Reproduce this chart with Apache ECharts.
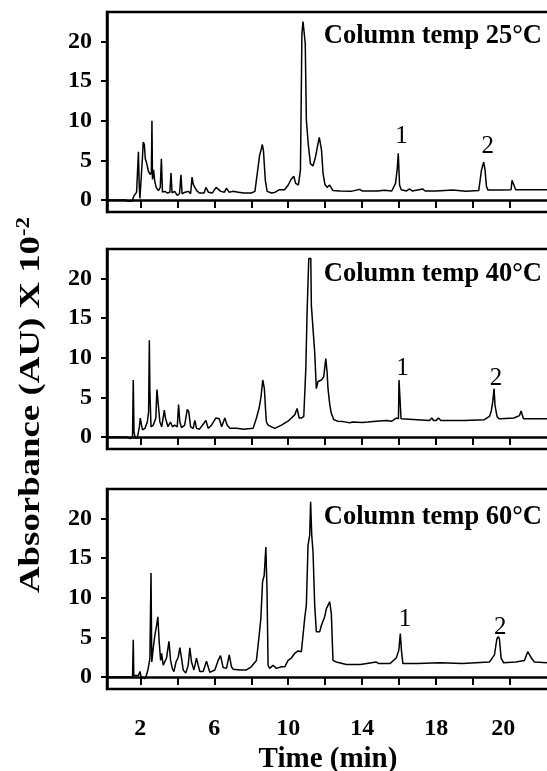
<!DOCTYPE html>
<html>
<head>
<meta charset="utf-8">
<script src="https://cdn.jsdelivr.net/npm/echarts@6/dist/echarts.min.js"></script>
<style>
  html, body { margin: 0; padding: 0; background: #fff; }
  #chart { width: 547px; height: 771px; }
</style>
</head>
<body>
<div id="chart"></div>
<script>
// Chromatograms (time in min, absorbance in AU x 10^-2) at three column temperatures
const panelTitles = ['Column temp 25\u00B0C', 'Column temp 40\u00B0C', 'Column temp 60\u00B0C'];

const trace25 = [
  [0.2, 0.0], [1.2, 0.0], [1.35, -0.15], [1.55, -0.15], [1.65, 0.5], [1.8, 1.0], [1.86, 1.0], [1.9, 6.1],
  [1.94, 2.0], [1.98, 0.2], [2.06, 0.4], [2.12, 5.5], [2.16, 7.3], [2.22, 7.0], [2.27, 5.2], [2.35, 4.6],
  [2.44, 3.6], [2.55, 3.2], [2.6, 3.6], [2.63, 10.0], [2.66, 2.6], [2.72, 3.8], [2.78, 2.4], [2.86, 1.6],
  [2.98, 1.2], [3.08, 1.6], [3.14, 5.2], [3.2, 1.0], [3.32, 1.1], [3.46, 0.9], [3.6, 1.0], [3.66, 3.4],
  [3.72, 0.9], [3.86, 1.1], [4.0, 0.6], [4.12, 0.8], [4.2, 3.2], [4.26, 0.8], [4.42, 1.0], [4.6, 1.1],
  [4.72, 0.8], [4.8, 2.9], [4.86, 2.0], [4.95, 1.6], [5.05, 1.2], [5.2, 0.9], [5.45, 0.9], [5.55, 1.6],
  [5.68, 1.0], [5.9, 0.9], [6.1, 1.6], [6.2, 1.8], [6.35, 1.1], [6.55, 1.0], [6.66, 1.5], [6.8, 1.0],
  [7.0, 1.1], [7.3, 1.0], [7.6, 0.9], [8.0, 0.9], [8.2, 1.1], [8.35, 3.8], [8.45, 5.6], [8.55, 6.5],
  [8.6, 7.0], [8.66, 6.2], [8.76, 2.5], [8.86, 1.1], [9.1, 0.9], [9.3, 1.0], [9.5, 1.3], [9.8, 1.3],
  [10.0, 1.9], [10.15, 2.6], [10.3, 3.0], [10.4, 2.1], [10.55, 1.9], [10.66, 3.8], [10.74, 21.0], [10.8, 22.5],
  [10.86, 22.3], [10.92, 19.7], [10.98, 10.1], [11.08, 7.1], [11.2, 4.6], [11.34, 4.3], [11.48, 5.5], [11.6, 7.0],
  [11.68, 7.9], [11.74, 7.9], [11.8, 6.3], [11.88, 3.4], [11.98, 2.0], [12.1, 1.6], [12.24, 1.9], [12.42, 1.2],
  [12.8, 1.15], [13.4, 1.1], [13.86, 1.35], [14.0, 1.15], [14.6, 1.15], [14.67, 1.35], [14.8, 1.15], [15.2, 1.25],
  [15.6, 1.15], [15.8, 2.1], [15.89, 3.8], [15.95, 5.9], [16.02, 1.9], [16.11, 1.3], [16.4, 1.15], [16.56, 1.4],
  [16.7, 1.15], [17.28, 1.4], [17.4, 1.15], [18.0, 1.15], [18.9, 1.26], [19.0, 1.15], [19.6, 1.1], [20.3, 1.2],
  [20.45, 3.8], [20.5, 4.0], [20.57, 4.8], [20.64, 3.8], [20.72, 1.7], [20.8, 1.26], [21.5, 1.26], [22.05, 1.3],
  [22.1, 2.5], [22.2, 2.4], [22.3, 1.3], [24.1, 1.3]
];

const trace40 = [
  [0.2, 0.0], [1.3, 0.0], [1.45, -0.2], [1.58, 0.0], [1.62, 7.2], [1.66, 0.7], [1.72, -0.1], [1.84, -0.1],
  [1.95, 1.3], [2.0, 2.4], [2.06, 1.6], [2.12, 0.9], [2.25, 1.1], [2.38, 1.9], [2.45, 3.2], [2.49, 12.2],
  [2.52, 5.7], [2.58, 1.3], [2.7, 1.5], [2.84, 2.4], [2.9, 6.0], [3.0, 5.9], [3.06, 1.9], [3.16, 1.3],
  [3.3, 3.4], [3.36, 2.4], [3.5, 1.3], [3.63, 1.9], [3.74, 1.3], [3.86, 1.5], [4.0, 1.3], [4.07, 4.1],
  [4.14, 1.9], [4.23, 1.2], [4.4, 1.5], [4.54, 3.5], [4.62, 3.2], [4.72, 1.3], [4.86, 1.1], [4.95, 2.1],
  [5.04, 1.1], [5.2, 1.0], [5.55, 2.1], [5.67, 1.1], [5.85, 1.5], [6.08, 2.4], [6.27, 2.3], [6.4, 1.3],
  [6.57, 2.4], [6.7, 1.5], [6.85, 1.1], [7.2, 1.1], [7.6, 1.0], [8.1, 1.1], [8.28, 2.4], [8.42, 3.6],
  [8.53, 5.1], [8.62, 7.2], [8.71, 6.1], [8.77, 3.6], [8.82, 1.9], [8.91, 1.5], [9.27, 1.1], [9.63, 1.5],
  [9.99, 2.0], [10.17, 2.4], [10.35, 2.8], [10.48, 3.6], [10.59, 2.4], [10.71, 2.4], [10.84, 2.6], [10.95, 8.6],
  [11.02, 15.8], [11.11, 22.5], [11.22, 22.5], [11.25, 16.6], [11.34, 16.6], [11.43, 10.7], [11.52, 6.1], [11.61, 7.0],
  [11.79, 7.2], [11.92, 7.6], [12.03, 9.9], [12.1, 8.2], [12.15, 6.1], [12.25, 4.0], [12.33, 3.0], [12.46, 2.2],
  [12.69, 2.0], [12.96, 1.95], [13.32, 1.8], [13.5, 1.9], [14.0, 1.85], [14.3, 1.9], [14.76, 2.0], [15.3, 2.1],
  [15.6, 2.0], [15.84, 2.4], [15.96, 2.3], [15.99, 7.2], [16.05, 7.2], [16.1, 2.3], [16.2, 2.1], [17.64, 2.1],
  [17.76, 2.4], [17.86, 2.1], [18.0, 2.1], [18.12, 2.4], [18.25, 2.1], [19.5, 2.1], [20.6, 2.2], [20.88, 2.6],
  [20.98, 3.3], [21.06, 4.5], [21.13, 6.1], [21.18, 4.0], [21.29, 2.6], [21.4, 2.3], [21.51, 2.3], [22.2, 2.4],
  [22.5, 2.7], [22.59, 3.3], [22.72, 2.3], [24.1, 2.3]
];

const trace60 = [
  [0.2, 0.0], [1.58, 0.0], [1.62, 4.7], [1.65, 0.2], [1.9, 0.2], [1.98, 0.7], [2.05, 0.0], [2.15, -0.2],
  [2.25, -0.2], [2.34, 0.3], [2.43, 1.1], [2.52, 2.4], [2.58, 13.1], [2.62, 1.9], [2.7, 3.6], [2.79, 5.3],
  [2.88, 6.5], [2.95, 7.6], [3.02, 4.5], [3.1, 2.1], [3.15, 3.0], [3.24, 1.5], [3.33, 1.5], [3.42, 2.4],
  [3.55, 4.5], [3.64, 2.1], [3.73, 1.1], [3.82, 0.7], [3.93, 1.9], [4.05, 2.5], [4.14, 3.7], [4.23, 2.4],
  [4.32, 0.9], [4.46, 0.5], [4.59, 1.5], [4.68, 3.7], [4.77, 1.9], [4.9, 0.9], [5.04, 2.4], [5.13, 1.5],
  [5.22, 0.7], [5.4, 0.7], [5.58, 2.0], [5.76, 0.6], [6.03, 0.9], [6.21, 2.1], [6.34, 2.7], [6.48, 1.2],
  [6.66, 1.1], [6.81, 2.8], [6.93, 1.3], [7.02, 1.0], [7.4, 0.9], [7.74, 0.9], [8.0, 1.3], [8.28, 2.1],
  [8.43, 5.3], [8.52, 7.4], [8.61, 12.0], [8.7, 12.8], [8.79, 16.4], [8.85, 11.2], [8.91, 1.5], [9.0, 1.1],
  [9.18, 1.5], [9.36, 1.1], [9.63, 1.3], [9.81, 1.3], [9.99, 2.1], [10.17, 2.4], [10.35, 3.0], [10.53, 3.3],
  [10.71, 3.2], [10.8, 3.2], [10.89, 7.4], [10.98, 9.1], [11.07, 16.6], [11.16, 17.9], [11.21, 22.1], [11.27, 17.9],
  [11.34, 15.8], [11.43, 9.1], [11.52, 5.7], [11.7, 5.7], [11.79, 6.5], [11.97, 7.6], [12.06, 8.6], [12.15, 8.6],
  [12.24, 9.5], [12.33, 8.0], [12.42, 2.1], [12.6, 1.9], [13.14, 1.6], [13.9, 1.6], [14.76, 1.9], [14.9, 1.7],
  [15.5, 1.7], [15.84, 2.4], [15.98, 3.4], [16.06, 5.5], [16.12, 3.4], [16.2, 1.7], [17.0, 1.7], [17.4, 1.75],
  [18.2, 1.8], [19.4, 1.7], [20.88, 1.9], [21.15, 2.8], [21.28, 4.8], [21.36, 5.1], [21.42, 4.8], [21.51, 2.4],
  [21.65, 1.8], [22.3, 1.9], [22.77, 2.1], [22.95, 3.2], [23.04, 3.3], [23.15, 2.4], [23.31, 1.9], [24.1, 1.8]
];

// Peak annotations "1" and "2" placed in data coordinates [time, absorbance]
const peakLabels25 = [['1', 16.13, 7.97], ['2', 20.79, 6.71]];
const peakLabels40 = [['1', 16.18, 8.65], ['2', 21.24, 7.43]];
const peakLabels60 = [['1', 16.31, 7.3], ['2', 21.46, 6.26]];

const xTickValues = [2, 4, 6, 8, 10, 12, 14, 16, 18, 20, 22];
const xLabelValues = [2, 6, 10, 14, 18, 22];
const xLabelTexts = ['2', '6', '10', '14', '18', '20'];
const yTickValues = [0, 5, 10, 15, 20];

const traces = [trace25, trace40, trace60];
const peakSets = [peakLabels25, peakLabels40, peakLabels60];
const gridTops = [12, 249, 489];

const SERIF = "'Liberation Serif', 'Times New Roman', serif";
const labelFont = { color: '#000', fontFamily: SERIF, fontWeight: 'bold', fontSize: 24 };

const grids = gridTops.map(top => ({
  left: 107, right: -2, top: top, height: 200,
  outerBoundsMode: 'none', containLabel: false,
  show: true, borderColor: '#000', borderWidth: 2.5, backgroundColor: 'transparent'
}));

const xAxes = gridTops.map((_, i) => {
  const last = i === gridTops.length - 1;
  return {
    type: 'value', gridIndex: i, min: 0.2, max: 24.1,
    axisLine: { show: true, lineStyle: { color: '#000', width: 2.5 } },
    axisTick: { show: true, inside: false, length: 8, customValues: xTickValues, lineStyle: { color: '#000', width: 2 } },
    splitLine: { show: false },
    axisLabel: Object.assign({
      show: last, customValues: xLabelValues, margin: 28,
      formatter: v => {
        const k = xLabelValues.indexOf(Math.round(v));
        if (k < 0) return '';
        // the rightmost label sits slightly left of its tick, clear of the frame edge
        return k === xLabelValues.length - 1 ? '{edge|' + xLabelTexts[k] + '}' : xLabelTexts[k];
      },
      rich: { edge: Object.assign({ padding: [0, 14, 0, 0] }, labelFont) }
    }, labelFont),
    name: last ? 'Time (min)' : '',
    nameLocation: 'middle', nameGap: 56,
    nameTextStyle: { color: '#000', fontFamily: SERIF, fontWeight: 'bold', fontSize: 29 }
  };
});

const yAxes = gridTops.map((_, i) => ({
  type: 'value', gridIndex: i, min: -1.5, max: 23.7,
  axisLine: { show: true, lineStyle: { color: '#000', width: 2.5 } },
  axisTick: { show: true, inside: false, length: 6, customValues: yTickValues, lineStyle: { color: '#000', width: 2 } },
  splitLine: { show: false },
  axisLabel: Object.assign({ customValues: yTickValues, margin: 15 }, labelFont)
}));

const series = traces.map((data, i) => ({
  type: 'line', xAxisIndex: i, yAxisIndex: i,
  data: data, showSymbol: false, symbol: 'none', smooth: false,
  lineStyle: { color: '#000', width: 1.5 },
  markPoint: {
    symbol: 'circle', symbolSize: 0,
    label: { show: true, position: 'inside', formatter: '{b}', color: '#000', fontFamily: SERIF, fontSize: 25 },
    data: peakSets[i].map(p => ({ name: p[0], coord: [p[1], p[2]] }))
  }
}));

const titleCenters = [36, 274, 517];
const graphics = titleCenters.map((y, i) => ({
  type: 'text', x: 542, y: y,
  style: {
    text: panelTitles[i], textAlign: 'right', textVerticalAlign: 'middle',
    fill: '#000', font: 'bold 26.5px ' + SERIF
  }
}));

// Shared vertical axis title with superscript exponent
graphics.push({
  type: 'text', x: 32, y: 405, rotation: Math.PI / 2, scaleX: 1.27, scaleY: 1,
  style: {
    text: '{a|Absorbance (AU) X 10}{s|-2}',
    textAlign: 'center', textVerticalAlign: 'middle',
    rich: {
      a: { fill: '#000', font: 'bold 29px ' + SERIF, lineHeight: 34 },
      s: { fill: '#000', font: 'bold 18px ' + SERIF, verticalAlign: 'top', lineHeight: 34, padding: [0, 0, 14, 0] }
    }
  }
});

const chart = echarts.init(document.getElementById('chart'), null, { renderer: 'canvas' });
chart.setOption({
  animation: false,
  backgroundColor: '#fff',
  grid: grids,
  xAxis: xAxes,
  yAxis: yAxes,
  series: series,
  graphic: graphics
});
</script>
</body>
</html>
